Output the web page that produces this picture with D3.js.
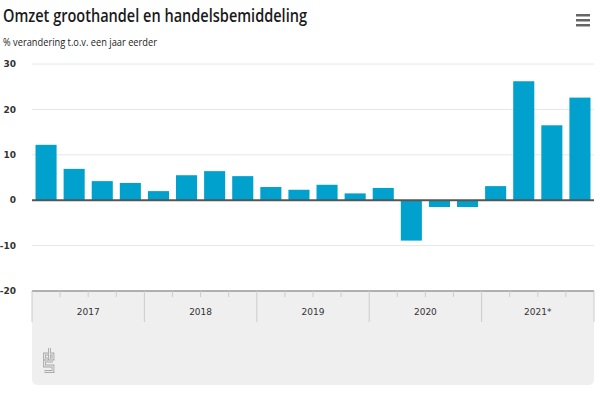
<!DOCTYPE html>
<html lang="nl">
<head>
<meta charset="UTF-8">
<title>Omzet groothandel en handelsbemiddeling</title>
<style>
  html, body { margin: 0; padding: 0; background: #fff; }
  svg { display: block; }
</style>
</head>
<body>
<div id="chart"></div>
<script src="https://d3js.org/d3.v7.min.js"></script>
<script>
const years = ["2017", "2018", "2019", "2020", "2021*"];
const quarters = ["1e kw", "2e kw", "3e kw", "4e kw"];
const values = [
  12.2, 6.9, 4.2, 3.8,
  2.0, 5.5, 6.4, 5.3,
  2.9, 2.3, 3.4, 1.5,
  2.7, -8.9, -1.5, -1.5,
  3.1, 26.2, 16.5, 22.6
];
const yTicks = [30, 20, 10, 0, -10, -20];

const W = 600, H = 394;
const mLeft = 32, mRight = 594, mTop = 64, mBottom = 291;

const cats = [];
years.forEach(y => quarters.forEach(q => cats.push(y + " " + q)));

const svg = d3.select("#chart").append("svg")
  .attr("width", W).attr("height", H);

const x = d3.scaleBand().domain(cats).range([mLeft, mRight])
  .paddingInner(0.25).paddingOuter(0.125);
const xYear = d3.scaleBand().domain(years).range([mLeft, mRight]);
const y = d3.scaleLinear().domain([-20, 30]).range([mBottom, mTop]);

// titel
svg.append("text").attr("x", 3).attr("y", 22)
  .attr("font-family", "Open Sans").attr("font-weight", 600)
  .attr("font-size", 17.5).attr("fill", "#1a1a1a")
  .attr("textLength", 304).attr("lengthAdjust", "spacingAndGlyphs")
  .text("Omzet groothandel en handelsbemiddeling");
svg.append("text").attr("x", 3).attr("y", 46)
  .attr("font-family", "Open Sans").attr("font-size", 10.5).attr("fill", "#222")
  .attr("textLength", 154).attr("lengthAdjust", "spacingAndGlyphs")
  .text("% verandering t.o.v. een jaar eerder");

// menu icoon
[0, 5, 10].forEach(d => {
  svg.append("rect").attr("x", 576).attr("y", 14 + d).attr("width", 14).attr("height", 2.5)
    .attr("fill", "#666");
});

// x-as paneel
svg.append("path")
  .attr("d", `M${mLeft},${mBottom} H${mRight} V${385 - 6} Q${mRight},385 ${mRight - 6},385 H${mLeft + 6} Q${mLeft},385 ${mLeft},${379} Z`)
  .attr("fill", "#efefef");

// rasterlijnen
svg.append("g").selectAll("line").data(yTicks.filter(d => d !== -20 && d !== 0)).join("line")
  .attr("x1", mLeft).attr("x2", mRight)
  .attr("y1", d => y(d)).attr("y2", d => y(d))
  .attr("stroke", "#e6e6e6").attr("stroke-width", 1);

// y labels
svg.append("g").selectAll("text").data(yTicks).join("text")
  .attr("x", 16).attr("y", d => y(d)).attr("dy", "0.35em")
  .attr("text-anchor", "end")
  .attr("font-family", "DejaVu Sans").attr("font-weight", "bold")
  .attr("font-size", 9).attr("fill", "#333")
  .text(d => d);

// staven
svg.append("g").selectAll("rect").data(values).join("rect")
  .attr("x", (d, i) => x(cats[i]))
  .attr("width", x.bandwidth())
  .attr("y", d => y(Math.max(0, d)))
  .attr("height", d => Math.abs(y(d) - y(0)))
  .attr("fill", "#00a1cd");

// nullijn
svg.append("line").attr("x1", mLeft).attr("x2", mRight)
  .attr("y1", y(0)).attr("y2", y(0))
  .attr("stroke", "#555").attr("stroke-width", 2);

// x-as
svg.append("line").attr("x1", mLeft).attr("x2", mRight)
  .attr("y1", mBottom).attr("y2", mBottom)
  .attr("stroke", "#999").attr("stroke-width", 1.5);

// kwartaal ticks
const step = x.step();
svg.append("g").selectAll("line").data(cats.filter((d, i) => i % 4 !== 0)).join("line")
  .attr("x1", d => x(d) - x.paddingInner() * step / 2)
  .attr("x2", d => x(d) - x.paddingInner() * step / 2)
  .attr("y1", mBottom).attr("y2", mBottom + 6)
  .attr("stroke", "#ccc").attr("stroke-width", 1);

// jaar scheidingen
svg.append("g").selectAll("line").data(years.concat(["end"])).join("line")
  .attr("x1", d => d === "end" ? mRight : xYear(d))
  .attr("x2", d => d === "end" ? mRight : xYear(d))
  .attr("y1", mBottom).attr("y2", mBottom + 31)
  .attr("stroke", "#ccc").attr("stroke-width", 1);

// jaar labels
svg.append("g").selectAll("text").data(years).join("text")
  .attr("x", d => xYear(d) + xYear.bandwidth() / 2).attr("y", 312)
  .attr("dy", "0.35em").attr("text-anchor", "middle")
  .attr("font-family", "DejaVu Sans").attr("font-size", 9).attr("fill", "#333")
  .text(d => d);

// cbs logo
const logo = svg.append("g").attr("fill", "none").attr("stroke-linejoin", "miter");
const logoPath =
  "M48,354 H44.5 V359 H48" +          // c
  "M49.5,348 V359 H53 V354 H49.5" +   // b
  "M53,361 H44.5 V366 H53 V371.5 H44.5"; // s
logo.append("path").attr("d", logoPath).attr("stroke", "#aaa").attr("stroke-width", 2.8);
logo.append("path").attr("d", logoPath).attr("stroke", "#efefef").attr("stroke-width", 0.9);
</script>
</body>
</html>
